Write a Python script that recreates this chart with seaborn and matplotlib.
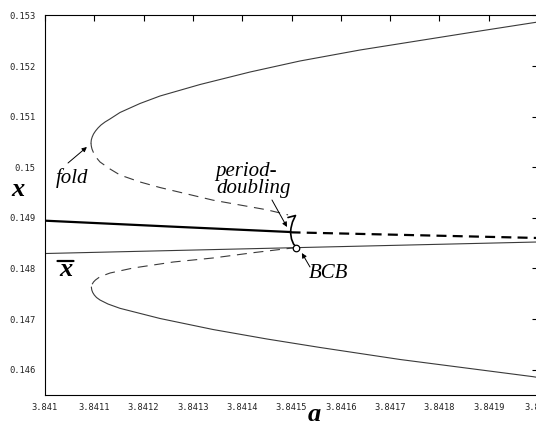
import numpy as np
import pandas as pd
import matplotlib
matplotlib.use("Agg")
import matplotlib.pyplot as plt
import seaborn as sns

# ---------------- data ----------------
# upper stable branch (solid), starting at the fold
upper_a = [3.8410933, 3.8410939, 3.8410957, 3.8410984, 3.8411024, 3.8411075, 3.8411136,
           3.8411217, 3.8411318, 3.8411521, 3.8411927, 3.8412333, 3.8413144, 3.8414158,
           3.8415172, 3.8416389, 3.8417606, 3.8418824, 3.8420000]
upper_x = [0.150480, 0.150540, 0.150599, 0.150658, 0.150717, 0.150777, 0.150836,
           0.150895, 0.150955, 0.151083, 0.151261, 0.151409, 0.151636, 0.151883,
           0.152101, 0.152318, 0.152506, 0.152694, 0.152872]

# middle unstable branch (dashed) from the fold toward period-doubling
mid_a = [3.8410933, 3.8410939, 3.8410953, 3.8410978, 3.8411014, 3.8411065, 3.8411116,
         3.8411318, 3.8411521, 3.8411927, 3.8412333, 3.841341, 3.841450, 3.841493]
mid_x = [0.150480, 0.150421, 0.150362, 0.150302, 0.150233, 0.150164, 0.150105,
         0.149967, 0.149848, 0.149710, 0.149600, 0.14935, 0.14916, 0.14906]

# short curve from the hook through period-doubling down to BCB
hook_a = [3.8414929, 3.8415081, 3.8415020, 3.8414990, 3.8414980, 3.8415000, 3.8415041, 3.8415101]
hook_x = [0.149008, 0.149047, 0.148919, 0.148800, 0.148711, 0.148583, 0.148484, 0.148415]

# period-1 fixed point: stable (thick solid) then unstable (thick dashed)
fp_stable_a = [3.841000, 3.841250, 3.841498]
fp_stable_x = [0.148945, 0.148831, 0.148721]
fp_unstable_a = [3.841498, 3.842000]
fp_unstable_x = [0.148715, 0.148603]

# border x-bar (thin solid)
xbar_a = [3.841000, 3.842000]
xbar_x = [0.148296, 0.148524]

# lower unstable branch (dashed) from BCB to lower fold
lowd_a = [3.8415101, 3.841422, 3.841341, 3.841260, 3.841179, 3.841132, 3.8411116,
          3.8411024, 3.8410984, 3.8410953, 3.841094]
lowd_x = [0.148415, 0.148312, 0.148208, 0.148128, 0.148010, 0.147911, 0.147838,
          0.147773, 0.147733, 0.147684, 0.147634]

# lower stable branch (solid) from lower fold
lows_a = [3.841094, 3.8410949, 3.8410968, 3.8411000, 3.8411045, 3.8411116, 3.8411278,
          3.8411521, 3.8412333, 3.841341, 3.841450, 3.841558, 3.841720, 3.841990, 3.842000]
lows_x = [0.147634, 0.147575, 0.147526, 0.147476, 0.147427, 0.147377, 0.147298,
          0.147213, 0.147012, 0.146794, 0.146607, 0.146439, 0.146202, 0.145862, 0.145846]

bcb_a = [3.8415101]
bcb_x = [0.148415]

x_ticks = [3.841, 3.8411, 3.8412, 3.8413, 3.8414, 3.8415, 3.8416, 3.8417, 3.8418, 3.8419, 3.842]
x_tick_labels = ["3.841", "3.8411", "3.8412", "3.8413", "3.8414", "3.8415",
                 "3.8416", "3.8417", "3.8418", "3.8419", "3.842"]
y_ticks = [0.146, 0.147, 0.148, 0.149, 0.150, 0.151, 0.152, 0.153]
y_tick_labels = ["0.146", "0.147", "0.148", "0.149", "0.15", "0.151", "0.152", "0.153"]

# ---------------- figure ----------------
sns.set_style("white")

W, H = 536, 422
fig = plt.figure(figsize=(W / 100, H / 100), dpi=100)
ax = fig.add_axes([45 / W, 1 - 395 / H, (538 - 45) / W, (395 - 15.5) / H])

thin = "#3a3a3a"

def draw(a, x, **kw):
    sns.lineplot(x=np.array(a), y=np.array(x), ax=ax, sort=False, estimator=None, **kw)

draw(upper_a, upper_x, color=thin, lw=0.8)
draw(mid_a, mid_x, color=thin, lw=0.8, linestyle=(0, (9, 6)))
draw(hook_a, hook_x, color="black", lw=1.2)
draw(fp_stable_a, fp_stable_x, color="black", lw=1.6)
draw(fp_unstable_a, fp_unstable_x, color="black", lw=1.6, linestyle=(0, (4.5, 2.8)))
draw(xbar_a, xbar_x, color=thin, lw=0.8)
draw(lowd_a, lowd_x, color=thin, lw=0.8, linestyle=(0, (9, 6)))
draw(lows_a, lows_x, color=thin, lw=0.8)
sns.scatterplot(x=bcb_a, y=bcb_x, ax=ax, s=22, facecolor="white", edgecolor="black",
                linewidth=0.9, zorder=5)

ax.set_xlim(3.841, 3.842)
ax.set_ylim(0.1455, 0.153)
ax.set_xticks(x_ticks)
ax.set_xticklabels(x_tick_labels)
ax.set_yticks(y_ticks)
ax.set_yticklabels(y_tick_labels)
ax.set_xlabel("")
ax.set_ylabel("")
ax.tick_params(direction="in", length=4, width=0.8, top=True, right=True,
               labelsize=6.3, labelcolor="#222222", colors="black")
ax.tick_params(axis="x", pad=6)
ax.tick_params(axis="y", pad=7)
for lab in ax.get_xticklabels() + ax.get_yticklabels():
    lab.set_family("DejaVu Sans Mono")
for s in ax.spines.values():
    s.set_linewidth(0.8)
    s.set_color("black")

# ---------------- annotations ----------------
serif_it = dict(family="Liberation Serif", style="italic", color="black")
arrow = dict(arrowstyle="-|>", color="black", lw=0.7, mutation_scale=7, shrinkA=0, shrinkB=0)

ax.text(3.8410558, 0.149779, "fold", fontsize=15, ha="center", va="center", **serif_it)
ax.annotate("", xy=(3.841085, 0.150401), xytext=(3.8410467, 0.150085), arrowprops=arrow)

ax.text(3.8414077, 0.14983, "period-", fontsize=15, ha="center", va="baseline", **serif_it)
ax.text(3.841424, 0.149492, "doubling", fontsize=15, ha="center", va="baseline", **serif_it)
ax.annotate("", xy=(3.8414909, 0.14882), xytext=(3.8414604, 0.149354), arrowprops=arrow)

ax.text(3.841575, 0.147812, "BCB", fontsize=15, ha="center", va="baseline", **serif_it)
ax.annotate("", xy=(3.841521, 0.148306), xytext=(3.8415375, 0.14803), arrowprops=arrow)

# x-bar label inside the axes: bold italic x with a thick bar above
bold_it = dict(family="Liberation Serif", style="italic", weight="bold", color="black")
fig.text(65.5 / W, 1 - 276 / H, "x", fontsize=19, ha="center", va="baseline", **bold_it)
ax.annotate("", xy=(73.5 / W, 1 - 261 / H), xytext=(57.5 / W, 1 - 261 / H),
            xycoords="figure fraction", textcoords="figure fraction",
            arrowprops=dict(arrowstyle="-", lw=1.6, color="black", shrinkA=0, shrinkB=0))

fig.text(17.5 / W, 1 - 195.5 / H, "x", fontsize=19, ha="center", va="baseline", **bold_it)
fig.text(314 / W, 1 - 421 / H, "a", fontsize=19, ha="center", va="baseline", **bold_it)

fig.savefig("out.png", dpi=100)
